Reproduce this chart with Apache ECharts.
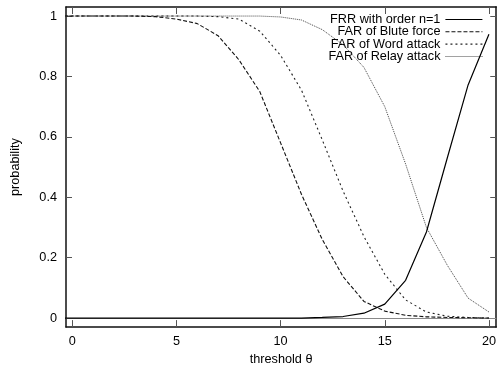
<!DOCTYPE html>
<html><head><meta charset="utf-8">
<script src="https://cdn.jsdelivr.net/npm/echarts@6/dist/echarts.min.js"></script>
<style>html,body{margin:0;padding:0;background:#fff}#c{width:499px;height:371px}</style>
</head><body><div id="c"></div><script>
const theta = [-1,0,1,2,3,4,5,6,7,8,9,10,11,12,13,14,15,16,17,18,19,20];
const frr   = [0,0,0,0,0,0,0,0,0,0,0,0,0,0.002,0.005,0.016,0.046,0.125,0.285,0.53,0.772,0.94];
const blute = [1,1,1,1,1,0.998,0.99,0.975,0.935,0.855,0.75,0.58,0.41,0.26,0.137,0.055,0.023,0.009,0.004,0.002,0.001,0];
const word  = [1,1,1,1,1,1,1,1,0.998,0.99,0.95,0.87,0.755,0.59,0.42,0.27,0.145,0.06,0.02,0.006,0.002,0];
const relay = [1,1,1,1,1,1,1,1,1,1,1,0.997,0.987,0.955,0.905,0.83,0.70,0.51,0.30,0.175,0.066,0.02];
const xTicks = [0,5,10,15,20];
const yTicks = [0,0.2,0.4,0.6,0.8,1];
const names = ['FRR with order n=1','FAR of Blute force','FAR of Word attack','FAR of Relay attack'];

const FONT = '"Liberation Sans", Arial, Helvetica, sans-serif';
const FS = 12.7;
const pairs = v => theta.map((t,i)=>[t, v[i]]);
const styles = [
  {color:'#000', width:1.2, type:'solid'},
  {color:'#111', width:1.1, type:[4,2]},
  {color:'#222', width:1.1, type:[2,3]},
  {color:'#444', width:1, type:[1,1]}
];
const vals = [frr, blute, word, relay];
const series = vals.map((v,i)=>({
  name: names[i], type:'line', data: pairs(v), symbol:'none', clip:true,
  lineStyle: styles[i], itemStyle:{color: styles[i].color}, z: 10-i,
  animation:false,
  markLine: i===0 ? {silent:true, symbol:'none', label:{show:false},
    lineStyle:{color:'#888', width:1, type:'solid'}, data:[{yAxis:0}]} : undefined
}));
const legendTops = [13, 25.3, 37.6, 50];
const legends = names.map((n,i)=>({
  data:[n], right:16, top:legendTops[i], orient:'vertical', align:'right', padding:0,
  itemWidth:37, itemHeight:12, itemGap:0, selectedMode:false,
  itemStyle:{opacity:0},
  lineStyle:{width:styles[i].width, type:styles[i].type, color:styles[i].color},
  textStyle:{fontFamily:FONT, fontSize:FS, color:'#000', padding:[0,0,0,0]}
}));
const axisCommon = {
  axisLine:{show:true, onZero:false, lineStyle:{color:'#111', width:1.5}},
  splitLine:{show:false}
};
const chart = echarts.init(document.getElementById('c'), null, {renderer:'canvas'});
chart.setOption({
  animation:false,
  backgroundColor:'#fff',
  grid:{left:66, top:7, width:434, height:324, containLabel:false},
  legend: legends,
  xAxis:[
    Object.assign({type:'value', min:-0.3, max:20.35, position:'bottom',
      name:'threshold θ', nameLocation:'middle', nameGap:22,
      nameTextStyle:{fontFamily:FONT, fontSize:FS, color:'#000'},
      axisTick:{show:true, inside:true, length:7, customValues:xTicks, lineStyle:{color:'#555'}},
      axisLabel:{customValues:xTicks, margin:8, fontFamily:FONT, fontSize:FS, color:'#000'}}, axisCommon),
    Object.assign({type:'value', min:-0.3, max:20.35, position:'top',
      axisTick:{show:true, inside:true, length:7, customValues:xTicks, lineStyle:{color:'#555'}},
      axisLabel:{show:false}}, axisCommon)
  ],
  yAxis:[
    Object.assign({type:'value', min:-0.03, max:1.03, position:'left',
      name:'probability', nameLocation:'middle', nameGap:44, nameRotate:90,
      nameTextStyle:{fontFamily:FONT, fontSize:FS, color:'#000'},
      axisTick:{show:true, inside:true, length:6, customValues:yTicks, lineStyle:{color:'#555'}},
      axisLabel:{customValues:yTicks, margin:9, fontFamily:FONT, fontSize:FS, color:'#000'}}, axisCommon),
    Object.assign({type:'value', min:-0.03, max:1.03, position:'right',
      axisTick:{show:true, inside:true, length:6, customValues:yTicks, lineStyle:{color:'#555'}},
      axisLabel:{show:false}}, axisCommon)
  ],
  series: series
});
</script></body></html>
